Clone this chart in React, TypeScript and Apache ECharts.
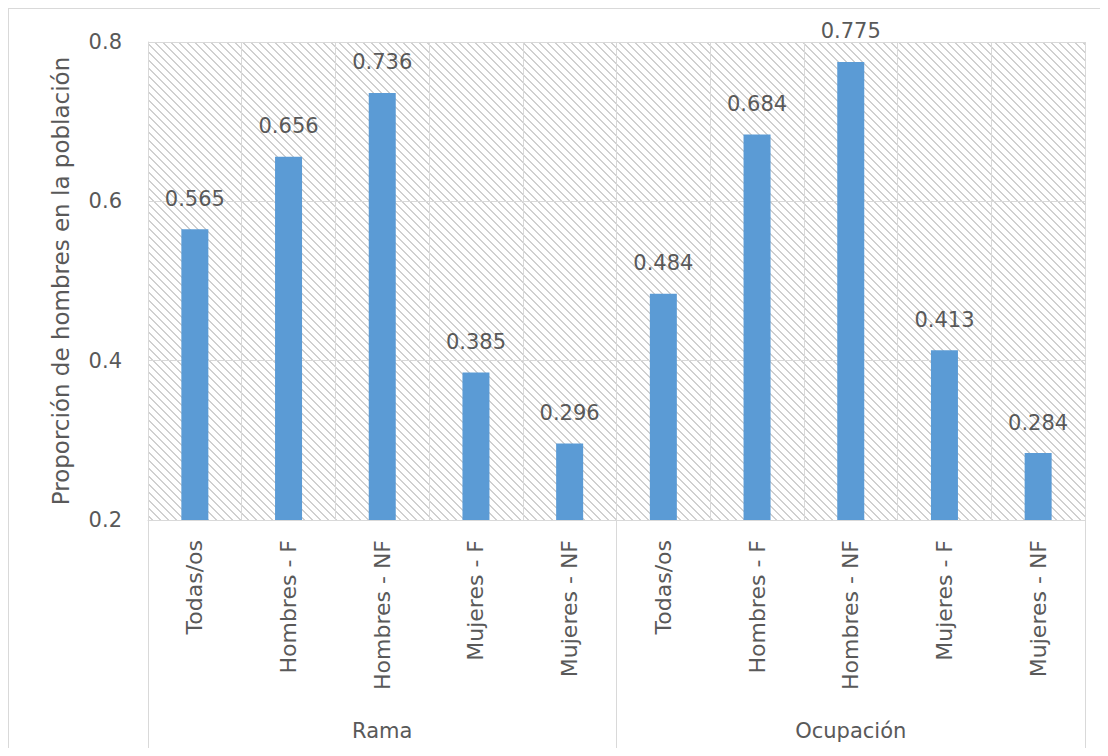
import React, { useEffect, useRef } from "react";
import * as echarts from "echarts";

// Subgroups shown within each grouping
const categories = [
  "Todas/os",
  "Hombres - F",
  "Hombres - NF",
  "Mujeres - F",
  "Mujeres - NF",
  "Todas/os",
  "Hombres - F",
  "Hombres - NF",
  "Mujeres - F",
  "Mujeres - NF",
];
const groups = ["Rama", "Ocupación"];
const ramaValues = [0.565, 0.656, 0.736, 0.385, 0.296];
const ocupacionValues = [0.484, 0.684, 0.775, 0.413, 0.284];
const yTicks = { min: 0.2, max: 0.8, interval: 0.2 };

const FONT = "DejaVu Sans";
const TEXT = "#595959";
const LINE = "#d9d9d9";

function makeHatch(): HTMLCanvasElement {
  // 8x8 downward diagonal hatch tile
  const c = document.createElement("canvas");
  c.width = 8;
  c.height = 8;
  const ctx = c.getContext("2d")!;
  ctx.fillStyle = "#ffffff";
  ctx.fillRect(0, 0, 8, 8);
  ctx.fillStyle = "#d0d0d0";
  for (let y = 0; y < 8; y++) {
    for (let x = 0; x < 8; x++) {
      if (((x - y) & 7) < 2) ctx.fillRect(x, y, 1, 1);
    }
  }
  return c;
}

export default function App() {
  const ref = useRef<HTMLDivElement>(null);

  useEffect(() => {
    if (!ref.current) return;
    const chart = echarts.init(ref.current, null, { renderer: "svg" });
    const values = [...ramaValues, ...ocupacionValues];

    chart.setOption({
      animation: false,
      grid: {
        left: 140,
        top: 34,
        right: 23,
        bottom: 228,
        show: true,
        borderWidth: 0,
        backgroundColor: {
          image: makeHatch(),
          repeat: "repeat",
          imageWidth: 8,
          imageHeight: 8,
        },
      },
      graphic: [
        {
          type: "line",
          shape: { x1: 0, y1: 0.5, x2: 1100, y2: 0.5 },
          style: { stroke: LINE, lineWidth: 1 },
        },
        {
          type: "line",
          shape: { x1: 0.5, y1: 0, x2: 0.5, y2: 740 },
          style: { stroke: LINE, lineWidth: 1 },
        },
      ],
      xAxis: [
        {
          type: "category",
          data: categories,
          position: "bottom",
          axisLine: { show: true, lineStyle: { color: LINE, width: 1 } },
          axisTick: { show: false },
          splitLine: { show: true, lineStyle: { color: LINE, width: 1 } },
          axisLabel: {
            interval: 0,
            rotate: 90,
            margin: 20,
            fontFamily: FONT,
            fontSize: 22,
            color: TEXT,
          },
        },
        {
          type: "category",
          data: groups,
          position: "bottom",
          axisLine: { show: false },
          axisTick: {
            show: true,
            length: 228,
            lineStyle: { color: LINE, width: 1 },
          },
          splitLine: { show: false },
          axisLabel: {
            margin: 200,
            fontFamily: FONT,
            fontSize: 21,
            color: TEXT,
          },
        },
      ],
      yAxis: {
        type: "value",
        min: yTicks.min,
        max: yTicks.max,
        interval: yTicks.interval,
        name: "Proporción de hombres en la población",
        nameLocation: "middle",
        nameGap: 76,
        nameTextStyle: { fontFamily: FONT, fontSize: 23, color: TEXT },
        axisLine: { show: true, lineStyle: { color: LINE, width: 1 } },
        axisTick: { show: false },
        splitLine: { show: true, lineStyle: { color: LINE, width: 1 } },
        axisLabel: {
          margin: 26,
          fontFamily: FONT,
          fontSize: 21,
          color: TEXT,
          formatter: (v: number) => v.toFixed(1),
        },
      },
      series: [
        {
          type: "bar",
          xAxisIndex: 0,
          data: values,
          barWidth: 27,
          itemStyle: { color: "#5b9bd5" },
          label: {
            show: true,
            position: "top",
            distance: 20,
            fontFamily: FONT,
            fontSize: 21,
            color: TEXT,
            formatter: (p: any) => Number(p.value).toFixed(3),
          },
        },
      ],
    });

    return () => chart.dispose();
  }, []);

  return (
    <div style={{ width: 1100, height: 740, position: "relative" }}>
      <div ref={ref} style={{ width: 1100, height: 740 }} />
    </div>
  );
}
